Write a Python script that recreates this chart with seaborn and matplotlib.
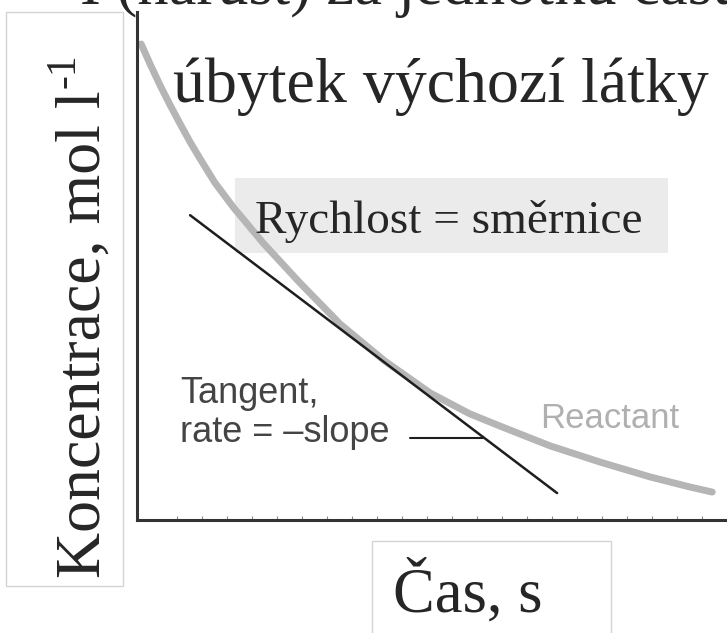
import matplotlib
matplotlib.use('Agg')
import matplotlib.pyplot as plt
import seaborn as sns
import numpy as np
import pandas as pd
from matplotlib.patches import Rectangle

# Reactant curve (time, concentration; arbitrary units)
cas = [0.07, 0.22, 0.39, 0.56, 0.73, 0.90, 1.07, 1.32, 1.63, 2.14, 2.76,
       3.44, 4.20, 4.97, 5.64, 6.15, 7.00, 7.85, 8.69, 9.37, 9.75]
koncentrace = [9.37, 8.98, 8.56, 8.17, 7.80, 7.44, 7.11, 6.64, 6.16, 5.45, 4.67,
               3.86, 3.13, 2.50, 2.09, 1.85, 1.46, 1.14, 0.85, 0.65, 0.55]

# Tangent line end points
tangenta_cas = [0.90, 7.12]
tangenta_konc = [6.00, 0.53]

# leader line from the "Tangent" label
vodici_cas = [4.63, 5.86]
vodici_konc = [1.61, 1.61]

x_popisek = 'Čas, s'
y_popisek = 'Koncentrace, mol l'
y_exponent = '-1'
nadpis = 'I (nárůst) za jednotku času'
podnadpis = 'úbytek výchozí látky'
ramecek = 'Rychlost = směrnice'

sns.set_style('white')
SERIF = ['Liberation Serif', 'DejaVu Serif']
SANS = ['Liberation Sans', 'DejaVu Sans']

W, H = 727, 633
fig = plt.figure(figsize=(W / 100, H / 100), dpi=100)


def fx(px):
    return px / W


def fy(py):
    return 1 - py / H


ax = fig.add_axes([fx(137), fy(520), (727 - 137) / W, (520 - 12) / H])
ax.patch.set_visible(False)

df = pd.DataFrame({'cas': cas, 'konc': koncentrace})
sns.lineplot(data=df, x='cas', y='konc', ax=ax, color='#b5b5b5', lw=5,
             solid_capstyle='round', solid_joinstyle='round', sort=False, zorder=2)
tang = pd.DataFrame({'cas': tangenta_cas, 'konc': tangenta_konc})
sns.lineplot(data=tang, x='cas', y='konc', ax=ax, color='#1e1e1e', lw=1.8, zorder=3)
ved = pd.DataFrame({'cas': vodici_cas, 'konc': vodici_konc})
sns.lineplot(data=ved, x='cas', y='konc', ax=ax, color='#1e1e1e', lw=1.5, zorder=3)

ax.set_xlim(0, 10)
ax.set_ylim(0, 10)
ax.set_xlabel('')
ax.set_ylabel('')
sns.despine(ax=ax)
for s in ['left', 'bottom']:
    ax.spines[s].set_color('#333333')
    ax.spines[s].set_linewidth(2.2)
ax.set_xticks(np.arange(0.68, 10, 0.424))
ax.set_xticklabels([])
ax.set_yticks([])
ax.tick_params(axis='x', direction='in', length=3, width=0.8, color='#888888', bottom=True)

# annotations inside the plot
ax.text(fx(180), fy(403), 'Tangent,', transform=fig.transFigure, fontsize=26,
        family=SANS, color='#444444', va='baseline')
ax.text(fx(180), fy(442), 'rate = –slope', transform=fig.transFigure, fontsize=26,
        family=SANS, color='#444444', va='baseline')
ax.text(fx(540), fy(428), 'Reactant', transform=fig.transFigure, fontsize=25,
        family=SANS, color='#b0b0b0', va='baseline')

# grey box with the rate label
fig.add_artist(Rectangle((fx(235), fy(253)), 433 / W, 75 / H, transform=fig.transFigure,
                         facecolor='#ebebeb', edgecolor='none', zorder=-1))
fig.text(fx(255), fy(233), ramecek, fontsize=34, family=SERIF, va='baseline')

fig.text(fx(173), fy(102), podnadpis, fontsize=46, family=SERIF, va='baseline')
# heading line that is cut off by the top edge, as in the slide
fig.text(fx(80), fy(4), nadpis, fontsize=45, family=SERIF, va='baseline')

# y label in its box, with the raised "-1"
fig.add_artist(Rectangle((fx(6), fy(586)), 117 / W, 574 / H, transform=fig.transFigure,
                         facecolor='none', edgecolor='#d4d4d4', lw=1))
ylab = fig.text(fx(100), fy(578), y_popisek, fontsize=46, family=SERIF, rotation=90,
                rotation_mode='anchor', ha='left', va='baseline')
fig.canvas.draw()
bb = ylab.get_window_extent()
fig.text(fx(100 - 26), (bb.y1 + 2) / H, y_exponent, fontsize=30, family=SERIF,
         rotation=90, rotation_mode='anchor', ha='left', va='baseline')

# x label in its box
fig.add_artist(Rectangle((fx(372), fy(640)), 239 / W, 99 / H, transform=fig.transFigure,
                         facecolor='none', edgecolor='#d4d4d4', lw=1))
fig.text(fx(393), fy(612), x_popisek, fontsize=45, family=SERIF, va='baseline')

fig.savefig('out.png', dpi=100)
